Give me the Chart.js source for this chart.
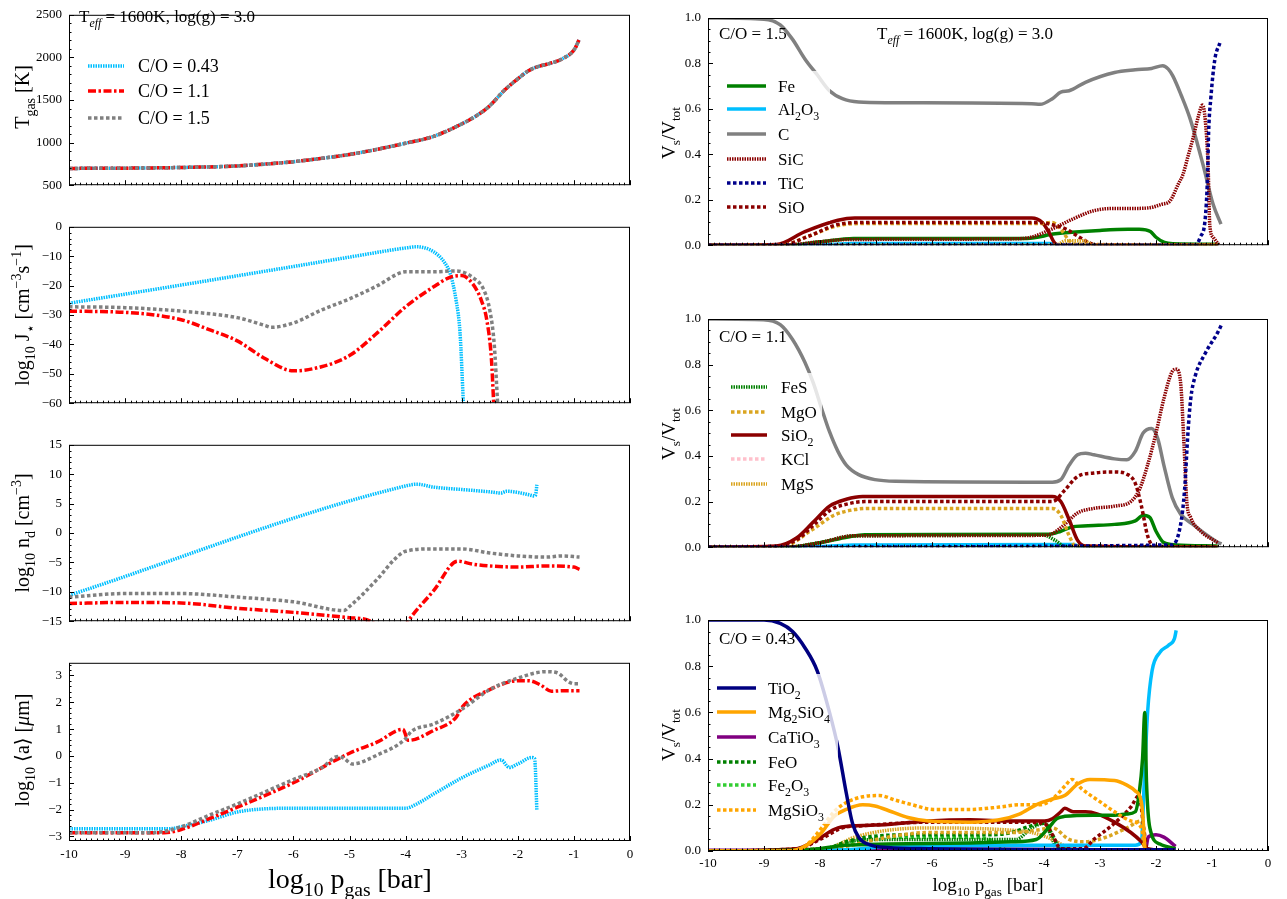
<!DOCTYPE html>
<html>
<head>
<meta charset="utf-8">
<script src="https://cdn.jsdelivr.net/npm/chart.js@4.4.0/dist/chart.umd.min.js"></script>
<style>
  body { margin: 0; background: #fff; width: 1287px; height: 899px; position: relative; overflow: hidden; }
  canvas { position: absolute; }
</style>
</head>
<body>
<canvas id="l1" width="640" height="200" style="left:0;top:0"></canvas>
<canvas id="l2" width="640" height="206" style="left:0;top:212px"></canvas>
<canvas id="l3" width="640" height="206" style="left:0;top:430px"></canvas>
<canvas id="l4" width="640" height="251" style="left:0;top:648px"></canvas>
<canvas id="r1" width="647" height="260" style="left:640px;top:0"></canvas>
<canvas id="r2" width="647" height="262" style="left:640px;top:300px"></canvas>
<canvas id="r3" width="647" height="299" style="left:640px;top:600px"></canvas>
<script>
// ---- données (x = log10 p_gas) ----
const xTicks = [-10, -9, -8, -7, -6, -5, -4, -3, -2, -1, 0];

// T_gas : les trois C/O se superposent
const tgasP = [-10, -9, -8, -7, -6.5, -6, -5.5, -5, -4.5, -4, -3.5, -3, -2.75, -2.52, -2.23, -2.0, -1.82, -1.68, -1.42, -1.2, -0.99, -0.91];
const tgas = [697, 700, 708, 726, 748, 776, 815, 861, 922, 993, 1073, 1219, 1310, 1420, 1620, 1748, 1839, 1883, 1931, 1985, 2095, 2204];

// log10 J*
const jP043 = [-10, -8, -6, -5, -4, -3.8, -3.5, -3.3, -3.2, -3.1, -3.03, -2.97];
const j043 = [-26, -19.8, -13.5, -10.3, -7.2, -6.8, -8.5, -12.3, -16.2, -25, -36, -60];
const jP11 = [-10, -9, -8, -7.5, -7, -6.5, -6, -5.5, -5, -4.5, -4, -3.5, -3.2, -3.0, -2.8, -2.65, -2.55, -2.47, -2.43];
const j11 = [-28.7, -29.1, -31.6, -35, -38.8, -44.9, -49, -47.6, -43.8, -36, -27.2, -20.4, -17.1, -16.6, -19.5, -25, -32, -45, -60];
const jP15 = [-10, -9, -8, -7, -6.5, -6.4, -6, -5.5, -5, -4.5, -4.1, -4, -3.5, -3.1, -2.8, -2.6, -2.5, -2.42, -2.36];
const j15 = [-27.2, -27.5, -28.7, -30.9, -33.6, -34.2, -32.7, -28.3, -24.5, -20, -15.7, -15.3, -15.3, -15.0, -17.3, -21.7, -28.3, -40, -60];

// log10 n_d
const ndP043 = [-10, -4, -3.8, -3.5, -3, -2.5, -2.3, -2.2, -2.0, -1.8, -1.7, -1.68, -1.66];
const nd043 = [-10.6, 8.0, 8.3, 7.8, 7.4, 7.0, 6.8, 7.1, 6.9, 6.5, 6.3, 6.6, 8.2];
const ndP11 = [-10, -9, -8, -7, -6, -5, -4.6, -4.3, -4.05, -3.97, -3.5, -3.07, -2.8, -2.5, -2, -1.5, -1.0, -0.9];
const nd11 = [-12, -11.8, -11.9, -12.8, -13.5, -14.4, -15.1, -19, -16.5, -15.2, -9.8, -4.8, -5.3, -5.6, -5.8, -5.6, -5.8, -6.2];
const ndP15 = [-10, -9, -8, -7, -6, -5.1, -5.0, -4.5, -4.2, -4, -3.5, -3, -2.5, -2, -1.5, -1.2, -0.9];
const nd15 = [-10.9, -10.3, -10.3, -10.9, -11.7, -13.2, -12.5, -7.8, -4.5, -3.1, -2.7, -2.7, -3.4, -3.9, -4.1, -3.9, -4.1];

// log10 <a>
const aP043 = [-10, -8.2, -8, -7.5, -7, -6.5, -6, -4, -3.8, -3.5, -3, -2.5, -2.3, -2.15, -2, -1.75, -1.7, -1.66];
const a043 = [-2.71, -2.71, -2.64, -2.4, -2.09, -1.97, -1.95, -1.95, -1.79, -1.42, -0.82, -0.33, -0.15, -0.43, -0.3, -0.06, -0.1, -2.03];
const aP11 = [-10, -8.3, -8, -7.5, -7, -6, -5, -4.5, -4.05, -3.95, -3.5, -3.1, -3, -2.5, -2, -1.8, -1.6, -1.4, -1.2, -0.9];
const a11 = [-2.86, -2.86, -2.74, -2.34, -1.91, -1.0, 0.1, 0.52, 0.99, 0.58, 0.95, 1.44, 1.8, 2.47, 2.8, 2.8, 2.65, 2.41, 2.43, 2.43];
const aP15 = [-10, -8.5, -8, -7.5, -7, -6, -5.5, -5.2, -5.1, -4.95, -4.5, -4, -3.9, -3.5, -3, -2.5, -2, -1.5, -1.3, -1.1, -1.0, -0.9];
const a15 = [-2.86, -2.86, -2.64, -2.21, -1.79, -0.88, -0.45, -0.02, -0.09, -0.3, 0.04, 0.64, 0.91, 1.19, 1.74, 2.47, 2.9, 3.14, 3.1, 2.77, 2.69, 2.69];

// V_s/V_tot, C/O = 1.5
const r1CP = [-10, -9.0, -8.71, -8.49, -8.27, -8.05, -7.83, -7.6, -7.31, -6.79, -4.22, -4.07, -3.85, -3.7, -3.55, -3.26, -2.74, -2.37, -2.08, -1.88, -1.78, -1.70, -1.55, -1.39, -1.16, -0.98, -0.84];
const r1C = [1.0, 0.995, 0.97, 0.906, 0.82, 0.75, 0.68, 0.645, 0.63, 0.627, 0.623, 0.62, 0.645, 0.674, 0.68, 0.717, 0.76, 0.772, 0.778, 0.79, 0.775, 0.745, 0.66, 0.556, 0.354, 0.18, 0.093];
const r1SiCP = [-10, -8.7, -8.0, -7.5, -4.5, -4.22, -3.85, -3.48, -3.11, -2.74, -2.37, -2.11, -1.9, -1.75, -1.6, -1.52, -1.43, -1.34, -1.24, -1.17, -1.12, -1.07, -1.04, -0.98, -0.88];
const r1SiC = [0, 0, 0.015, 0.025, 0.028, 0.036, 0.072, 0.116, 0.152, 0.162, 0.162, 0.165, 0.18, 0.195, 0.27, 0.31, 0.39, 0.47, 0.57, 0.617, 0.55, 0.35, 0.09, 0.035, 0.003];
const r1TiCP = [-10, -1.3, -1.21, -1.12, -1.08, -1.06, -1.02, -0.95, -0.86];
const r1TiC = [0, 0, 0.035, 0.12, 0.3, 0.5, 0.65, 0.817, 0.89];
const r1SiO2P = [-10, -8.78, -8.27, -7.68, -7.38, -4.22, -4.03, -3.92, -3.81, -3.75, -0.9];
const r1SiO2 = [0, 0.003, 0.06, 0.11, 0.12, 0.12, 0.10, 0.06, 0.01, 0, 0];
const r1MgOP = [-10, -8.7, -8.2, -7.7, -7.3, -4.1, -3.85, -3.7, -3.55, -3.45, -0.9];
const r1MgO = [0, 0, 0.04, 0.085, 0.095, 0.095, 0.1, 0.07, 0.02, 0.005, 0];
const r1SiOP = [-10, -8.7, -8.2, -7.7, -7.3, -4.1, -3.85, -3.6, -3.4, -3.2, -3.05, -0.9];
const r1SiO = [0, 0, 0.04, 0.09, 0.1, 0.1, 0.09, 0.07, 0.04, 0.012, 0, 0];
const r1FeP = [-10, -8.6, -8.0, -7.4, -4.3, -3.8, -3.0, -2.5, -2.3, -2.1, -2.0, -1.85, -1.7, -0.9];
const r1Fe = [0, 0, 0.015, 0.03, 0.03, 0.05, 0.065, 0.07, 0.07, 0.06, 0.035, 0.012, 0.006, 0.004];
const r1AlP = [-10, -8.0, -7.4, -3.9, -3.7, -0.9];
const r1Al = [0, 0.002, 0.007, 0.008, 0, 0];
const r1MgSP = [-10, -3.8, -3.6, -3.3, -3.1, -0.9];
const r1MgS = [0, 0, 0.02, 0.02, 0, 0];

// V_s/V_tot, C/O = 1.1
const r2CP = [-10, -9.01, -8.71, -8.49, -8.27, -8.12, -7.97, -7.83, -7.68, -7.53, -7.31, -7.02, -6.65, -3.85, -3.70, -3.55, -3.40, -3.26, -3.11, -2.74, -2.52, -2.37, -2.23, -2.08, -1.97, -1.86, -1.71, -1.56, -1.34, -1.12, -0.9, -0.83];
const r2C = [1.0, 0.997, 0.975, 0.91, 0.81, 0.72, 0.607, 0.506, 0.42, 0.36, 0.318, 0.296, 0.289, 0.285, 0.296, 0.36, 0.405, 0.412, 0.405, 0.387, 0.383, 0.42, 0.5, 0.52, 0.477, 0.36, 0.217, 0.145, 0.1, 0.058, 0.022, 0.015];
const r2SiO2P = [-10, -8.78, -8.42, -8.12, -7.83, -7.53, -7.24, -3.85, -3.70, -3.55, -3.40, -3.26, -0.9];
const r2SiO2 = [0, 0.005, 0.04, 0.11, 0.18, 0.21, 0.222, 0.222, 0.2, 0.12, 0.03, 0.005, 0];
const r2SiOP = [-10, -8.75, -8.4, -8.1, -7.8, -7.5, -7.2, -3.85, -3.63, -3.40, -3.11, -2.74, -2.52, -2.37, -2.26, -2.15, -2.04, -0.9];
const r2SiO = [0, 0.004, 0.035, 0.1, 0.165, 0.19, 0.2, 0.2, 0.25, 0.31, 0.325, 0.33, 0.32, 0.28, 0.18, 0.05, 0.005, 0];
const r2MgOP = [-10, -8.71, -8.12, -7.75, -7.38, -7.09, -3.85, -3.70, -3.55, -3.44, -0.9];
const r2MgO = [0, 0, 0.08, 0.14, 0.165, 0.17, 0.17, 0.14, 0.05, 0.005, 0];
const r2FeP = [-10, -8.6, -8.0, -7.5, -7.2, -3.9, -3.7, -3.48, -3.11, -2.74, -2.37, -2.23, -2.11, -2.0, -1.86, -1.64, -0.9];
const r2Fe = [0, 0, 0.02, 0.045, 0.055, 0.057, 0.07, 0.09, 0.095, 0.1, 0.115, 0.14, 0.13, 0.07, 0.02, 0.01, 0.005];
const r2FeSP = [-10, -8.6, -8.0, -7.4, -4.0, -3.8, -3.6, -0.9];
const r2FeS = [0, 0, 0.02, 0.05, 0.052, 0.03, 0, 0];
const r2SiCP = [-10, -8.6, -8.0, -7.4, -4.0, -3.85, -3.63, -3.40, -3.11, -2.74, -2.45, -2.30, -2.15, -2.0, -1.86, -1.71, -1.64, -1.56, -1.50, -1.45, -1.38, -1.2, -0.9];
const r2SiC = [0, 0, 0.02, 0.05, 0.052, 0.06, 0.1, 0.15, 0.17, 0.18, 0.2, 0.25, 0.36, 0.5, 0.65, 0.77, 0.78, 0.72, 0.45, 0.2, 0.13, 0.07, 0.02];
const r2TiCP = [-10, -1.71, -1.56, -1.49, -1.43, -1.38, -1.30, -1.12, -0.9, -0.83];
const r2TiC = [0, 0.01, 0.1, 0.25, 0.5, 0.65, 0.75, 0.85, 0.94, 0.975];
const r2AlP = [-10, -8.0, -7.4, -3.5, -3.3, -0.9];
const r2Al = [0, 0.003, 0.01, 0.012, 0, 0];

// V_s/V_tot, C/O = 0.43
const r3TiO2P = [-10, -9.0, -8.71, -8.49, -8.27, -8.05, -7.83, -7.68, -7.53, -7.42, -7.31, -7.09, -6.79, -6.06, -1.65];
const r3TiO2 = [1.0, 1.0, 0.985, 0.95, 0.88, 0.78, 0.6, 0.45, 0.25, 0.12, 0.06, 0.025, 0.015, 0.01, 0.005];
const r3Mg2SiO4P = [-10, -8.56, -8.27, -7.97, -7.75, -7.53, -7.24, -7.02, -6.72, -6.43, -6.06, -5.32, -4.80, -4.44, -4.14, -3.85, -3.63, -3.40, -3.18, -2.74, -2.52, -2.37, -2.26, -2.22, -2.19, -1.65];
const r3Mg2SiO4 = [0, 0, 0.02, 0.08, 0.15, 0.18, 0.2, 0.195, 0.17, 0.145, 0.13, 0.125, 0.135, 0.16, 0.2, 0.225, 0.24, 0.29, 0.31, 0.305, 0.285, 0.26, 0.21, 0.1, 0, 0];
const r3MgSiO3P = [-10, -8.56, -8.27, -7.97, -7.75, -7.53, -7.24, -6.94, -6.65, -6.35, -5.98, -5.32, -4.80, -4.44, -4.07, -3.85, -3.63, -3.50, -3.33, -3.04, -2.74, -2.45, -2.26, -2.19, -1.65];
const r3MgSiO3 = [0, 0, 0.02, 0.1, 0.17, 0.21, 0.235, 0.24, 0.22, 0.2, 0.18, 0.18, 0.19, 0.2, 0.2, 0.225, 0.28, 0.31, 0.27, 0.22, 0.17, 0.13, 0.1, 0, 0];
const r3SiO2P = [-10, -8.42, -8.05, -7.68, -7.24, -6.79, -6.06, -5.32, -4.58, -3.99, -3.85, -3.70, -3.63, -3.48, -3.26, -3.04, -2.74, -2.45, -2.26, -2.15, -1.65];
const r3SiO2 = [0, 0.01, 0.05, 0.1, 0.11, 0.115, 0.13, 0.135, 0.13, 0.13, 0.14, 0.17, 0.185, 0.17, 0.17, 0.16, 0.125, 0.08, 0.04, 0.01, 0];
const r3SiOP = [-10, -8.4, -8.0, -7.6, -7.2, -6.0, -4.5, -4.0, -3.85, -3.7, -3.3, -3.11, -2.74, -2.45, -2.30, -2.22, -2.15, -1.65];
const r3SiO = [0, 0.01, 0.05, 0.1, 0.11, 0.125, 0.125, 0.12, 0.07, 0.01, 0.01, 0.05, 0.12, 0.19, 0.24, 0.1, 0, 0];
const r3FeP = [-10, -8.27, -7.53, -6.79, -5.32, -4.58, -4.14, -3.92, -3.77, -3.63, -3.11, -2.74, -2.52, -2.37, -2.30, -2.24, -2.20, -2.17, -2.11, -1.93, -1.65];
const r3Fe = [0, 0.005, 0.025, 0.03, 0.035, 0.04, 0.05, 0.1, 0.14, 0.15, 0.155, 0.155, 0.16, 0.17, 0.25, 0.4, 0.6, 0.3, 0.1, 0.03, 0.01];
const r3AlP = [-10, -7.53, -6.79, -5.32, -3.85, -2.37, -2.26, -2.21, -2.15, -2.07, -1.93, -1.78, -1.67, -1.64];
const r3Al = [0, 0.005, 0.02, 0.025, 0.025, 0.025, 0.04, 0.3, 0.6, 0.78, 0.86, 0.89, 0.92, 0.955];
const r3CaTiO3P = [-10, -2.19, -2.14, -2.0, -1.86, -1.65];
const r3CaTiO3 = [0.003, 0.003, 0.06, 0.07, 0.06, 0.02];
const r3FeOP = [-10, -7.90, -7.53, -7.16, -6.43, -4.95, -4.58, -4.22, -3.99, -3.85, -3.70, -1.65];
const r3FeO = [0, 0.01, 0.04, 0.06, 0.07, 0.07, 0.08, 0.11, 0.12, 0.07, 0.01, 0];
const r3Fe2O3P = [-10, -7.9, -7.53, -6.79, -5.32, -4.88, -4.73, -4.58, -1.65];
const r3Fe2O3 = [0, 0.005, 0.03, 0.06, 0.06, 0.04, 0.01, 0, 0];
const r3FeSP = [-10, -7.9, -7.53, -6.8, -4.5, -4.22, -3.99, -3.85, -3.75, -1.65];
const r3FeS = [0, 0.01, 0.04, 0.05, 0.05, 0.1, 0.12, 0.05, 0, 0];
const r3MgSP = [-10, -7.9, -7.38, -6.79, -6.06, -4.58, -4.22, -3.85, -3.63, -3.5, -1.65];
const r3MgS = [0, 0.01, 0.06, 0.09, 0.1, 0.09, 0.08, 0.05, 0.02, 0, 0];
const r3MgOP = [-10, -7.9, -7.53, -6.79, -6.06, -4.58, -4.14, -3.85, -3.55, -3.26, -2.89, -2.52, -2.26, -2.19, -1.65];
const r3MgO = [0, 0.005, 0.02, 0.06, 0.08, 0.08, 0.09, 0.1, 0.05, 0.04, 0.06, 0.1, 0.13, 0, 0];

// ---- styles ----
const FONT = '"Liberation Serif", "DejaVu Serif", serif';
const DASH = { solid: [], dot: [3.5, 2.5], fine: [1.5, 1], dashdot: [8, 2.5, 2.5, 2.5] };
const STY = {
  "C/O = 0.43": ["#00bfff", "fine"], "C/O = 1.1": ["#ff0000", "dashdot"], "C/O = 1.5": ["#808080", "dot"],
  Fe: ["#008000", "solid"], Al2O3: ["#00bfff", "solid"], C: ["#808080", "solid"], SiC: ["#8b0000", "fine"],
  TiC: ["#00008b", "dot"], SiO: ["#8b0000", "dot"], FeS: ["#008000", "fine"], MgO: ["#daa520", "dot"],
  SiO2: ["#8b0000", "solid"], KCl: ["#ffc0cb", "dot"], MgS: ["#daa520", "fine"], TiO2: ["#000080", "solid"],
  Mg2SiO4: ["#ffa500", "solid"], CaTiO3: ["#800080", "solid"], FeO: ["#008000", "dot"],
  Fe2O3: ["#32cd32", "dot"], MgSiO3: ["#ffa500", "dot"]
};

const minusFmt = v => String(v).replace("-", "\u2212");
const decFmt = v => v.toFixed(1);
const TEFF = ["T", "_~eff", " = 1600K, log(g) = 3.0"];
const PGAS = ["log", "_10", " p", "_gas", " [bar]"];
const VS = ["V", "_s", "/V", "_tot"];

const PANELS = [
  { id: "l1", left: 0, top: 0, padT: 7, padR: 10, yw: 69, xh: 12, ymin: 500, ymax: 2500, yTicks: [500, 1000, 1500, 2000, 2500], yMinor: 100, fmt: minusFmt, xLabels: false,
    series: [["C/O = 0.43", tgasP, tgas], ["C/O = 1.1", tgasP, tgas], ["C/O = 1.5", tgasP, tgas]],
    texts: [[TEFF, 79, 16, 17, "left"], [["T", "_gas", " [K]"], 22, 97, 20, "center", true]],
    legend: { x0: 88, x1: 124, tx: 138, size: 18, items: [["C/O = 0.43", 66], ["C/O = 1.1", 91], ["C/O = 1.5", 118]], chem: false } },
  { id: "l2", left: 0, top: 212, padT: 12, padR: 10, yw: 69, xh: 12, ymin: -60, ymax: 0, yTicks: [-60, -50, -40, -30, -20, -10, 0], yMinor: 2, fmt: minusFmt, xLabels: false,
    series: [["C/O = 0.43", jP043, j043], ["C/O = 1.1", jP11, j11], ["C/O = 1.5", jP15, j15]],
    texts: [[["log", "_10", " J", "_\u22c6", " [cm", "^\u22123", "s", "^\u22121", "]"], 22, 315, 20, "center", true]] },
  { id: "l3", left: 0, top: 430, padT: 13, padR: 10, yw: 69, xh: 13, ymin: -15, ymax: 15, yTicks: [-15, -10, -5, 0, 5, 10, 15], yMinor: 1, fmt: minusFmt, xLabels: false,
    series: [["C/O = 0.43", ndP043, nd043], ["C/O = 1.1", ndP11, nd11], ["C/O = 1.5", ndP15, nd15]],
    texts: [[["log", "_10", " n", "_d", " [cm", "^\u22123", "]"], 22, 533, 20, "center", true]] },
  { id: "l4", left: 0, top: 648, padT: 12, padR: 10, yw: 69, xh: 58, ymin: -3.17, ymax: 3.47, yTicks: [-3, -2, -1, 0, 1, 2, 3], yMinor: 0.2, fmt: minusFmt, xLabels: true, xPad: 6,
    series: [["C/O = 0.43", aP043, a043], ["C/O = 1.1", aP11, a11], ["C/O = 1.5", aP15, a15]],
    texts: [[["log", "_10", " \u27e8a\u27e9 [", "~\u03bc", "m]"], 22, 750, 20, "center", true], [PGAS, 350, 878, 28, "center"]] },
  { id: "r1", left: 640, top: 0, padT: 18, padR: 19, yw: 68, xh: 12, ymin: 0, ymax: 1, yTicks: [0, 0.2, 0.4, 0.6, 0.8, 1.0], yMinor: 0.05, fmt: decFmt, xLabels: false,
    series: [["C", r1CP, r1C], ["Al2O3", r1AlP, r1Al], ["Fe", r1FeP, r1Fe], ["SiO2", r1SiO2P, r1SiO2], ["MgO", r1MgOP, r1MgO], ["SiO", r1SiOP, r1SiO], ["MgS", r1MgSP, r1MgS], ["SiC", r1SiCP, r1SiC], ["TiC", r1TiCP, r1TiC]],
    texts: [[["C/O = 1.5"], 719, 33, 17, "left"], [TEFF, 877, 33, 17, "left"], [VS, 668, 133, 19, "center", true]],
    legend: { x0: 727, x1: 766, tx: 778, size: 17, box: [716, 71, 114, 150], chem: true, items: [["Fe", 86], ["Al2O3", 109], ["C", 134], ["SiC", 159], ["TiC", 183], ["SiO", 207]] } },
  { id: "r2", left: 640, top: 300, padT: 19, padR: 19, yw: 68, xh: 12, ymin: 0, ymax: 1, yTicks: [0, 0.2, 0.4, 0.6, 0.8, 1.0], yMinor: 0.05, fmt: decFmt, xLabels: false,
    series: [["C", r2CP, r2C], ["Al2O3", r2AlP, r2Al], ["Fe", r2FeP, r2Fe], ["FeS", r2FeSP, r2FeS], ["SiC", r2SiCP, r2SiC], ["MgO", r2MgOP, r2MgO], ["SiO", r2SiOP, r2SiO], ["SiO2", r2SiO2P, r2SiO2], ["TiC", r2TiCP, r2TiC]],
    texts: [[["C/O = 1.1"], 719, 336, 17, "left"], [VS, 668, 434, 19, "center", true]],
    legend: { x0: 731, x1: 767, tx: 781, size: 17, box: [716, 373, 106, 126], chem: true, items: [["FeS", 387], ["MgO", 412], ["SiO2", 435], ["KCl", 459], ["MgS", 484]] } },
  { id: "r3", left: 640, top: 600, padT: 20, padR: 19, yw: 68, xh: 48, ymin: 0, ymax: 1, yTicks: [0, 0.2, 0.4, 0.6, 0.8, 1.0], yMinor: 0.05, fmt: decFmt, xLabels: true, xPad: 5,
    series: [["CaTiO3", r3CaTiO3P, r3CaTiO3], ["Fe2O3", r3Fe2O3P, r3Fe2O3], ["FeS", r3FeSP, r3FeS], ["MgS", r3MgSP, r3MgS], ["FeO", r3FeOP, r3FeO], ["MgO", r3MgOP, r3MgO], ["Al2O3", r3AlP, r3Al], ["SiO", r3SiOP, r3SiO], ["SiO2", r3SiO2P, r3SiO2], ["Fe", r3FeP, r3Fe], ["Mg2SiO4", r3Mg2SiO4P, r3Mg2SiO4], ["MgSiO3", r3MgSiO3P, r3MgSiO3], ["TiO2", r3TiO2P, r3TiO2]],
    texts: [[["C/O = 0.43"], 719, 638, 17, "left"], [VS, 668, 735, 19, "center", true], [PGAS, 988, 884, 19, "center"]],
    legend: { x0: 717, x1: 756, tx: 768, size: 17, box: [710, 674, 128, 150], chem: true, items: [["TiO2", 688], ["Mg2SiO4", 712], ["CaTiO3", 737], ["FeO", 762], ["Fe2O3", 785], ["MgSiO3", 810]] } }
];

// texte avec indices / exposants
function segs(parts) {
  return parts.map(s => {
    let sub = 0, sup = 0, it = 0;
    if (s[0] === "_") { sub = 1; s = s.slice(1); } else if (s[0] === "^") { sup = 1; s = s.slice(1); }
    if (s[0] === "~") { it = 1; s = s.slice(1); }
    return { t: s, sub, sup, it };
  });
}
function chem(name) {
  return name.match(/[0-9]+|[^0-9]+/g).map(p => /[0-9]/.test(p) ? "_" + p : p);
}
function drawRich(ctx, parts, x, y, size, align, rot) {
  const ss = segs(parts);
  const fnt = g => (g.it ? "italic " : "") + ((g.sub || g.sup) ? size * 0.7 : size) + "px " + FONT;
  let w = 0;
  ss.forEach(g => { ctx.font = fnt(g); g.w = ctx.measureText(g.t).width; w += g.w; });
  ctx.save();
  ctx.translate(x, y);
  if (rot) ctx.rotate(-Math.PI / 2);
  let cx = align === "center" ? -w / 2 : 0;
  ctx.fillStyle = "#000";
  ctx.textAlign = "left";
  ctx.textBaseline = "alphabetic";
  const base = size * 0.35;
  ss.forEach(g => {
    ctx.font = fnt(g);
    ctx.fillText(g.t, cx, base + (g.sub ? size * 0.28 : g.sup ? -size * 0.38 : 0));
    cx += g.w;
  });
  ctx.restore();
}

const byId = {};
PANELS.forEach(P => byId[P.id] = P);

const deco = {
  id: "deco",
  afterDatasetsDraw(chart) {
    const P = byId[chart.canvas.id];
    if (!P || !P.legend) return;
    const L = P.legend, ctx = chart.ctx, ox = P.left, oy = P.top;
    ctx.save();
    if (L.box) {
      ctx.fillStyle = "rgba(255,255,255,0.8)";
      ctx.fillRect(L.box[0] - ox, L.box[1] - oy, L.box[2], L.box[3]);
    }
    L.items.forEach(([name, y]) => {
      const st = STY[name];
      ctx.beginPath();
      ctx.setLineDash(DASH[st[1]]);
      ctx.lineWidth = 3.5;
      ctx.strokeStyle = st[0];
      ctx.moveTo(L.x0 - ox, y - oy);
      ctx.lineTo(L.x1 - ox, y - oy);
      ctx.stroke();
      ctx.setLineDash([]);
      drawRich(ctx, L.chem ? chem(name) : [name], L.tx - ox, y - oy, L.size, "left");
    });
    ctx.restore();
  },
  afterDraw(chart) {
    const P = byId[chart.canvas.id];
    if (!P) return;
    const ctx = chart.ctx, a = chart.chartArea, xs = chart.scales.x, ys = chart.scales.y;
    ctx.save();
    ctx.strokeStyle = "#000";
    ctx.lineWidth = 1;
    ctx.setLineDash([]);
    ctx.strokeRect(a.left + 0.5, a.top + 0.5, a.right - a.left - 1, a.bottom - a.top - 1);
    // graduations vers l'intérieur
    for (let k = 0; k <= 100; k++) {
      const v = -10 + k * 0.1;
      const px = Math.round(xs.getPixelForValue(v)) + 0.5;
      ctx.beginPath();
      ctx.moveTo(px, a.bottom);
      ctx.lineTo(px, a.bottom - (k % 10 === 0 ? 5 : 2.5));
      ctx.stroke();
    }
    const start = Math.ceil(P.ymin / P.yMinor - 1e-6);
    const end = Math.floor(P.ymax / P.yMinor + 1e-6);
    for (let k = start; k <= end; k++) {
      const v = k * P.yMinor;
      const major = P.yTicks.some(t => Math.abs(t - v) < 1e-6);
      const py = Math.round(ys.getPixelForValue(v)) + 0.5;
      ctx.beginPath();
      ctx.moveTo(a.left, py);
      ctx.lineTo(a.left + (major ? 5 : 2.5), py);
      ctx.stroke();
    }
    ctx.restore();
    P.texts.forEach(t => drawRich(ctx, t[0], t[1] - P.left, t[2] - P.top, t[3], t[4], t[5]));
  }
};
Chart.register(deco);

PANELS.forEach(P => {
  const n = P.series.length;
  const datasets = P.series.map(([name, xsArr, ysArr], i) => ({
    label: name,
    data: xsArr.map((x, k) => ({ x: x, y: ysArr[k] })),
    borderColor: STY[name][0],
    borderDash: DASH[STY[name][1]],
    borderWidth: 3.5,
    borderCapStyle: "butt",
    pointRadius: 0,
    pointHitRadius: 0,
    fill: false,
    cubicInterpolationMode: "monotone",
    order: n - 1 - i
  }));
  new Chart(document.getElementById(P.id), {
    type: "line",
    data: { datasets: datasets },
    options: {
      responsive: false,
      animation: false,
      events: [],
      layout: { padding: { top: P.padT, right: P.padR, left: 0, bottom: 0 } },
      plugins: { legend: { display: false }, tooltip: { enabled: false } },
      scales: {
        x: {
          type: "linear", min: -10, max: 0,
          grid: { display: false, drawTicks: false },
          border: { display: false },
          ticks: { display: P.xLabels, color: "#000", font: { family: FONT, size: 13 }, padding: P.xPad || 6, autoSkip: false, maxRotation: 0, callback: v => String(v) },
          afterBuildTicks: s => { s.ticks = xTicks.map(v => ({ value: v })); },
          afterFit: s => { s.height = P.xh; }
        },
        y: {
          type: "linear", min: P.ymin, max: P.ymax,
          grid: { display: false, drawTicks: false },
          border: { display: false },
          ticks: { color: "#000", font: { family: FONT, size: 13 }, padding: 7, autoSkip: false, callback: P.fmt },
          afterBuildTicks: s => { s.ticks = P.yTicks.map(v => ({ value: v })); },
          afterFit: s => { s.width = P.yw; }
        }
      }
    }
  });
});
</script>
</body>
</html>
